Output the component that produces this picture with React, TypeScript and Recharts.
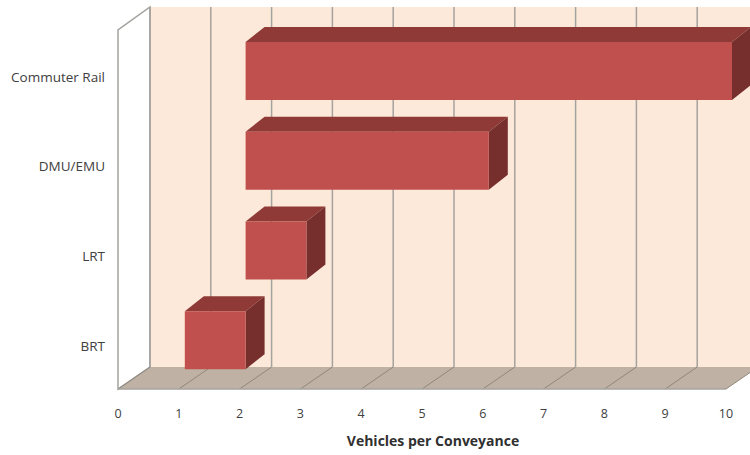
import React from "react";
import { BarChart, Bar, XAxis, YAxis, CartesianGrid, ReferenceArea } from "recharts";

const modes = ["Commuter Rail", "DMU/EMU", "LRT", "BRT"];
const rangeStart = [2, 2, 2, 1];
const rangeEnd = [10, 6, 3, 2];
const xTicks = [0, 1, 2, 3, 4, 5, 6, 7, 8, 9, 10];

const rows = modes.map((mode, i) => ({ mode, range: [rangeStart[i], rangeEnd[i]] }));

// Oblique projection of the box: how far the back wall sits from the front plane.
const WALL_DX = 32;
const WALL_DY = 22;
const WALL_TOP_EXTRA = 1;
// Bars stand slightly behind the front plane and have their own depth.
const BAR_SHIFT_X = 6;
const BAR_SHIFT_Y = -4;
const BAR_DX = 19;
const BAR_DY = 15;

const FONT = "'Open Sans', sans-serif";
const EDGE = "#a5a39f";

const Room = ({ x, y, width, height }: any) => {
  const bottom = y + height;
  const right = x + width;
  const top = y - WALL_DY - WALL_TOP_EXTRA;
  return (
    <g>
      <rect x={x + WALL_DX} y={top} width={width} height={height + WALL_TOP_EXTRA} fill="#fde9d9" />
      <polygon
        points={`${x},${bottom} ${right},${bottom} ${right + WALL_DX},${bottom - WALL_DY} ${x + WALL_DX},${bottom - WALL_DY}`}
        fill="#bfb2a4"
      />
      <polygon
        points={`${x},${bottom} ${x},${y} ${x + WALL_DX},${top} ${x + WALL_DX},${bottom - WALL_DY}`}
        fill="#ffffff"
        stroke={EDGE}
        strokeWidth={1.5}
      />
    </g>
  );
};

// Each grid line runs across the floor and then up the back wall.
const WallLine = ({ x1, y1, y2, index }: any) => {
  const bottom = Math.max(y1, y2);
  const top = Math.min(y1, y2) - WALL_DY - WALL_TOP_EXTRA;
  return (
    <g key={`wall-${index}`}>
      <line x1={x1} y1={bottom} x2={x1 + WALL_DX} y2={bottom - WALL_DY} stroke="#8f877c" strokeWidth={1} />
      <line x1={x1 + WALL_DX} y1={bottom - WALL_DY} x2={x1 + WALL_DX} y2={top} stroke={EDGE} strokeWidth={1.5} />
    </g>
  );
};

const Box = ({ x, y, width, height }: any) => {
  const l = x + BAR_SHIFT_X;
  const t = y + BAR_SHIFT_Y;
  const r = l + width;
  const b = t + height;
  return (
    <g>
      <polygon
        points={`${l},${t} ${l + BAR_DX},${t - BAR_DY} ${r + BAR_DX},${t - BAR_DY} ${r},${t}`}
        fill="#8f3a37"
      />
      <polygon
        points={`${r},${t} ${r + BAR_DX},${t - BAR_DY} ${r + BAR_DX},${b - BAR_DY} ${r},${b}`}
        fill="#772f2d"
      />
      <rect x={l} y={t} width={width} height={height} fill="#c0504d" />
    </g>
  );
};

export default function App() {
  return (
    <div style={{ position: "absolute", left: 0, top: 0, width: 750, height: 455, overflow: "hidden", background: "#fff" }}>
      <BarChart
        width={750}
        height={455}
        data={rows}
        layout="vertical"
        margin={{ top: 30, right: 24, bottom: 0, left: 0 }}
        style={{ fontFamily: FONT }}
      >
        <ReferenceArea x1={0} x2={10} shape={Room} ifOverflow="visible" zIndex={-200} />
        <CartesianGrid horizontal={false} vertical={(p: any) => <WallLine {...p} />} />
        <XAxis
          type="number"
          domain={[0, 10]}
          ticks={xTicks}
          interval={0}
          height={66}
          tickSize={0}
          tickMargin={20}
          tick={{ fill: "#404040", fontSize: 12.5, fontFamily: FONT }}
          axisLine={{ stroke: EDGE, strokeWidth: 1.5 }}
          label={{
            value: "Vehicles per Conveyance",
            position: "insideBottom",
            offset: 9,
            dx: 11,
            fill: "#303030",
            fontSize: 14,
            fontWeight: 700,
            fontFamily: FONT,
          }}
        />
        <YAxis
          type="category"
          dataKey="mode"
          width={118}
          tickSize={0}
          tickMargin={13}
          axisLine={false}
          tick={{ fill: "#404040", fontSize: 13.5, fontFamily: FONT, dy: 2 }}
        />
        <Bar dataKey="range" barSize={58} shape={Box} isAnimationActive={false} />
      </BarChart>
    </div>
  );
}
